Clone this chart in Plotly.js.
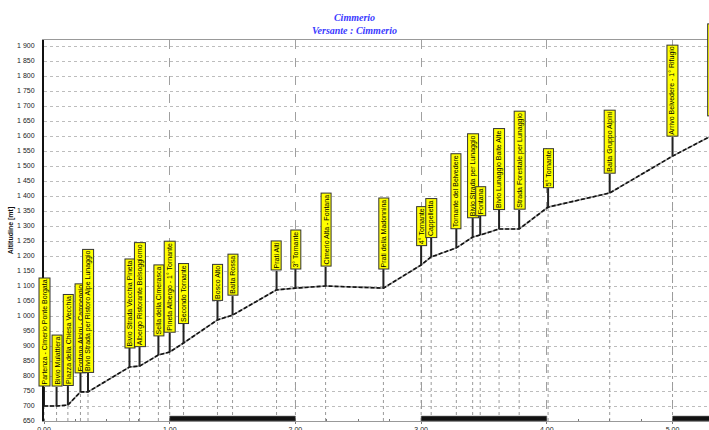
<!DOCTYPE html>
<html>
<head>
<meta charset="utf-8">
<script src="https://cdn.plot.ly/plotly-3.0.1.min.js"></script>
<style>
html,body{margin:0;padding:0;background:#fff;}
#chart{width:709px;height:430px;}
</style>
</head>
<body>
<div id="chart"></div>
<script>
// ---- data ----
const chartTitle = 'Cimmerio';
const chartSubtitle = 'Versante : Cimmerio';
const yTitle = 'Altitudine [mt]';

// waypoints: distance [km], altitude [mt], label
const wpKm  = [0.00, 0.10, 0.19, 0.29, 0.35, 0.68, 0.76, 0.91, 1.00, 1.11, 1.38, 1.50, 1.85, 2.00,
               2.24, 2.70, 3.00, 3.08, 3.28, 3.41, 3.47, 3.62, 3.78, 4.01, 4.50, 5.00, 5.32];
const wpAlt = [700, 700, 703, 747, 747, 830, 833, 870, 880, 910, 987, 1003, 1087, 1093,
               1100, 1093, 1170, 1197, 1227, 1263, 1270, 1290, 1290, 1363, 1410, 1533, 1603];
const wpLabel = [
  'Partenza - Cimerio Ponte Borgata',
  'Bivio Mulattiera',
  'Piazza della Chiesa Vecchia',
  'Fontana Alpini - Campeggio',
  'Bivio Strada per Ristoro Alpe Lunaggio',
  'Bivio Strada Vecchia Pineta',
  'Albergo Ristorante Belsoggiorno',
  'Sella della Cimerasca',
  'Pineta Albergo - 1° Tornante',
  'Secondo Tornante',
  'Bosco Alto',
  'Baita Rossa',
  'Prati Alti',
  '3° Tornante',
  'Cimerio Alta - Fontana',
  'Prati della Madonnina',
  '4° Tornante',
  'Cappelletta',
  'Tornante del Belvedere',
  'Bivio Strada per Lunaggio',
  'Fontana',
  'Bivio Lunaggio Baite Alte',
  'Strada Forestale per Lunaggio',
  '5° Tornante',
  'Baita Gruppo Alpini',
  'Arrivo Belvedere - 1° Rifugio',
  'Rifugio Cimerio - Bar Ristoro'
];

// elevation profile vertices
const profKm  = wpKm.slice();
const profAlt = wpAlt.slice();

// axis ticks
const xTickVals = [0, 1, 2, 3, 4, 5];
const bandStartKm = [1, 3, 5];   // black scale-bar segments (1 km each)
const yMin = 650, yMax = 1920, yStep = 50;
const xMax = 5.29;

// ---- styles ----
const stemPx = 19;
const boxFont = {family: 'Liberation Sans, Arial, sans-serif', size: 7, color: '#000'};

// ---- traces ----
const dropX = [], dropY = [];
wpKm.forEach((k, i) => { dropX.push(k, k, null); dropY.push(yMin, wpAlt[i], null); });

const traces = [
  {x: dropX, y: dropY, mode: 'lines', type: 'scatter', hoverinfo: 'skip',
   line: {color: '#9a9a9a', width: 1, dash: '3px,3px'}, showlegend: false},
  {x: profKm, y: profAlt, mode: 'lines', type: 'scatter',
   line: {color: '#9a9a9a', width: 1.6}, showlegend: false},
  {x: profKm, y: profAlt, mode: 'lines', type: 'scatter',
   line: {color: '#111', width: 1.6, dash: '4px,2px'}, showlegend: false}
];

// ---- annotations (yellow waypoint boxes) ----
const annotations = wpKm.map((k, i) => ({
  text: wpLabel[i], textangle: -90, font: boxFont,
  bgcolor: '#ffff00', bordercolor: '#333', borderwidth: 1, borderpad: 1,
  xanchor: 'center', yanchor: 'bottom', yref: 'y', y: wpAlt[i], yshift: stemPx,
  xref: k <= xMax ? 'x' : 'paper', x: k <= xMax ? k : k / xMax,
  showarrow: false
}));

// ---- shapes: stems and scale bar ----
const stems = wpKm.filter(k => k <= xMax).map((k, i) => ({
  type: 'line', xref: 'x', yref: 'y', x0: k, x1: k,
  ysizemode: 'pixel', yanchor: wpAlt[i], y0: 0, y1: stemPx,
  line: {color: '#222', width: 2}, layer: 'above'
}));
const bands = bandStartKm.map(s => ({
  type: 'rect', xref: 'x', yref: 'paper', x0: s, x1: s + 1, y0: 0, y1: 0.013,
  fillcolor: '#111', line: {color: '#777', width: 0.6}, layer: 'above'
}));

const tickFont = {family: 'Liberation Sans, Arial, sans-serif', size: 7, color: '#222'};

const layout = {
  width: 709, height: 430,
  margin: {l: 44, r: 0, t: 40, b: 9, pad: 0},
  paper_bgcolor: '#fff', plot_bgcolor: '#fff',
  separators: ', ',
  showlegend: false,
  title: {
    text: chartTitle + '<br>' + chartSubtitle,
    x: 0.5, xref: 'container', xanchor: 'center',
    y: 1 - 21 / 430, yref: 'container', yanchor: 'middle',
    font: {family: 'Liberation Serif, Times New Roman, serif', size: 10, color: '#3a3aff', style: 'italic', weight: 'bold'}
  },
  xaxis: {
    range: [0, xMax], tickvals: xTickVals, tickformat: '.2f',
    showgrid: true, gridcolor: '#a0a0a0', griddash: 'dash', gridwidth: 1,
    zeroline: false, showline: true, linecolor: '#999', linewidth: 1, mirror: true,
    ticks: 'outside', ticklen: 2, tickcolor: '#777', tickfont: tickFont,
    minor: {dtick: 0.25, ticks: 'inside', ticklen: 2, tickcolor: '#777', showgrid: false},
    fixedrange: true
  },
  yaxis: {
    range: [yMin, yMax], tick0: yMin, dtick: yStep, tickformat: ',d',
    showgrid: true, gridcolor: '#bdbdbd', griddash: 'dot', gridwidth: 1,
    zeroline: false, showline: true, linecolor: '#111', linewidth: 2,
    ticks: 'outside', ticklen: 6, tickcolor: 'rgba(0,0,0,0)', tickfont: tickFont,
    title: {text: yTitle, font: {family: 'Liberation Sans, Arial, sans-serif', size: 7, color: '#111', weight: 'bold'}, standoff: 3},
    fixedrange: true
  },
  annotations: annotations,
  shapes: stems.concat(bands)
};

Plotly.newPlot('chart', traces, layout, {staticPlot: true, displayModeBar: false});
</script>
</body>
</html>
